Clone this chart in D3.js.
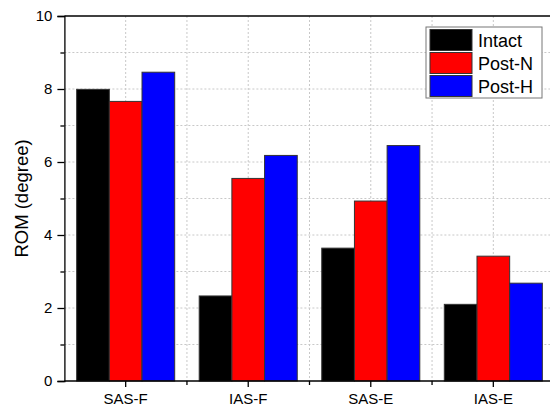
<!DOCTYPE html>
<html>
<head>
<meta charset="utf-8">
<script src="https://cdn.jsdelivr.net/npm/d3@7"></script>
<style>
    body { margin: 0; background: #fff; }
    text { font-family: "Liberation Sans", Arial, sans-serif; }
</style>
</head>
<body>
<script>
var categories = ["SAS-F", "IAS-F", "SAS-E", "IAS-E"];
var seriesNames = ["Intact", "Post-N", "Post-H"];
var seriesColors = ["#000000", "#ff0000", "#0000ff"];
var intact = [7.99, 2.33, 3.64, 2.10];
var postN = [7.66, 5.55, 4.93, 3.42];
var postH = [8.46, 6.18, 6.45, 2.68];
var yTicks = [0, 2, 4, 6, 8, 10];

var series = [intact, postN, postH];

var width = 550,
    height = 410;
var plot = { left: 64.4, right: 554.6, top: 16, bottom: 381 };

var svg = d3.select("body").append("svg")
    .attr("width", width)
    .attr("height", height);

var x = d3.scaleBand()
    .domain(categories)
    .range([plot.left, plot.right])
    .paddingInner(0)
    .paddingOuter(0);

var xSub = d3.scaleBand()
    .domain(seriesNames)
    .range([0, x.bandwidth()])
    .paddingOuter(0.375)
    .paddingInner(0);

var y = d3.scaleLinear()
    .domain([0, 10])
    .range([plot.bottom, plot.top]);

// grid lines (dotted)
var grid = svg.append("g").attr("class", "grid");
d3.range(1, 10).forEach(function(v) {
    grid.append("line")
        .attr("x1", plot.left).attr("x2", plot.right)
        .attr("y1", y(v)).attr("y2", y(v))
        .attr("stroke", "#c8c8c8")
        .attr("stroke-dasharray", "2,2");
});
var vGrid = categories.map(function(c) { return x(c) + x.bandwidth() / 2; })
    .concat(categories.slice(1).map(function(c) { return x(c); }));
vGrid.forEach(function(v) {
    grid.append("line")
        .attr("x1", v).attr("x2", v)
        .attr("y1", plot.top).attr("y2", plot.bottom)
        .attr("stroke", "#c8c8c8")
        .attr("stroke-dasharray", "2,2");
});

// bars
var groups = svg.append("g").selectAll("g")
    .data(series)
    .enter().append("g")
    .attr("fill", function(d, i) { return seriesColors[i]; });

groups.each(function(vals, si) {
    d3.select(this).selectAll("rect")
        .data(vals)
        .enter().append("rect")
        .attr("x", function(d, i) { return x(categories[i]) + xSub(seriesNames[si]); })
        .attr("y", function(d) { return y(d); })
        .attr("width", xSub.bandwidth())
        .attr("height", function(d) { return y(0) - y(d); })
        .attr("stroke", "#333")
        .attr("stroke-width", 1);
});

// axes
var yAxis = d3.axisLeft(y).tickValues(yTicks).tickSize(7).tickPadding(5).tickFormat(d3.format("d"));
var yMinor = d3.axisLeft(y).tickValues([1, 3, 5, 7, 9]).tickSize(4).tickFormat("");

var yg = svg.append("g").attr("transform", "translate(" + plot.left + ",0)").call(yAxis);
svg.append("g").attr("transform", "translate(" + plot.left + ",0)").call(yMinor)
    .select(".domain").remove();
yg.selectAll("text").style("font-size", "15px").attr("fill", "#000");

var xAxis = d3.axisBottom(x).tickSize(6).tickPadding(6);
var xg = svg.append("g").attr("transform", "translate(0," + plot.bottom + ")").call(xAxis);
xg.selectAll("text").style("font-size", "15px").attr("fill", "#000");
xg.select(".domain").attr("d", "M" + plot.left + ",0H" + plot.right);

var xMinor = svg.append("g").attr("transform", "translate(0," + plot.bottom + ")");
categories.slice(1).forEach(function(c) {
    xMinor.append("line")
        .attr("x1", x(c)).attr("x2", x(c))
        .attr("y1", 0).attr("y2", 4)
        .attr("stroke", "#000");
});

svg.selectAll(".domain, .tick line").attr("stroke", "#000").attr("stroke-width", 1.3);
xMinor.selectAll("line").attr("stroke-width", 1.3);

// top frame line
svg.append("line")
    .attr("x1", plot.left).attr("x2", plot.right)
    .attr("y1", plot.top).attr("y2", plot.top)
    .attr("stroke", "#000")
    .attr("stroke-width", 1.3);

// y label
svg.append("text")
    .attr("transform", "translate(28," + ((plot.top + plot.bottom) / 2) + ") rotate(-90)")
    .attr("text-anchor", "middle")
    .style("font-size", "18.5px")
    .text("ROM (degree)");

// legend
var legend = svg.append("g").attr("transform", "translate(426,27)");
legend.append("rect")
    .attr("width", 116).attr("height", 71)
    .attr("fill", "#fff")
    .attr("stroke", "#777")
    .attr("stroke-width", 1);
seriesNames.forEach(function(name, i) {
    legend.append("rect")
        .attr("x", 4).attr("y", 2.5 + i * 23)
        .attr("width", 42).attr("height", 21)
        .attr("fill", seriesColors[i])
        .attr("stroke", "#333");
    legend.append("text")
        .attr("x", 52).attr("y", 13.5 + i * 23)
        .attr("dy", "0.35em")
        .style("font-size", "18px")
        .text(name);
});
</script>
</body>
</html>
